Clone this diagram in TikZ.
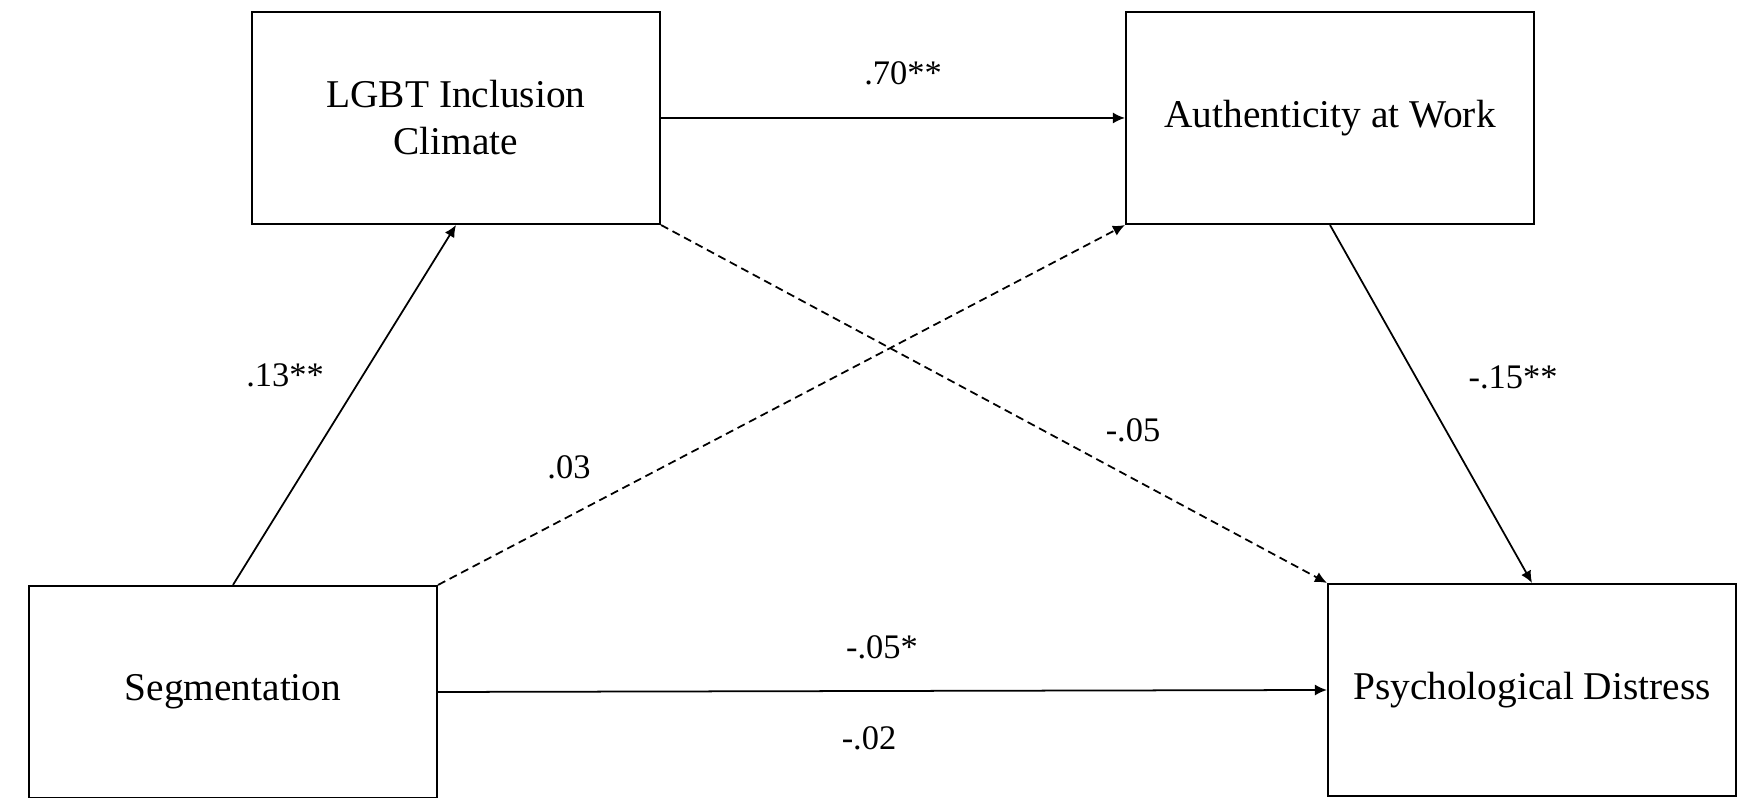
\documentclass[tikz,border=0pt]{standalone}
\usepackage{fontspec}
\setmainfont{Liberation Serif}
\usetikzlibrary{arrows.meta}

\tikzset{
	varbox/.style={draw, line width=.6pt, inner sep=0pt, minimum width=4.08cm, minimum height=2.12cm,
		align=center, font=\fontsize{11.2pt}{13.4pt}\selectfont},
	effect/.style={line width=.5pt, -{Latex[length=1.2mm, width=1.1mm]}},
	nulleffect/.style={effect, dash pattern=on 2.3pt off 1.4pt},
	coef/.style={inner sep=0pt, font=\fontsize{9.8pt}{12pt}\selectfont}
}

\begin{document}
\begin{tikzpicture}
			\useasboundingbox (0,0) rectangle (17.56,7.98);
			% variables
			\node[varbox] (lgbt)  at ( 4.56, 6.80) {LGBT Inclusion\\Climate};
			\node[varbox] (auth)  at (13.30, 6.80) {Authenticity at Work};
			\node[varbox] (seg)   at ( 2.33, 1.06) {Segmentation};
			\node[varbox] (psych) at (15.32, 1.08) {Psychological Distress};
			% paths
			\draw[effect] (lgbt) -- (auth);
			\draw[effect] (seg.north) -- (lgbt.south);
			\draw[effect] (auth.south) -- (psych.north);
			\draw[effect] (seg.east) -- (psych.west);
			\draw[nulleffect] (seg.north east) -- (auth.south west);
			\draw[nulleffect] (lgbt.south east) -- (psych.north west);
			% coefficients
			\node[coef] (c1) at ( 9.03, 7.25) {.70**};
			\node[coef] (c2) at ( 2.85, 4.23) {.13**};
			\node[coef] (c3) at ( 5.69, 3.31) {.03};
			\node[coef] (c4) at (11.33, 3.68) {-.05};
			\node[coef] (c5) at (15.13, 4.21) {-.15**};
			\node[coef] (c6) at ( 8.82, 1.51) {-.05*};
			\node[coef] (c7) at ( 8.69, 0.60) {-.02};
\end{tikzpicture}
\end{document}
